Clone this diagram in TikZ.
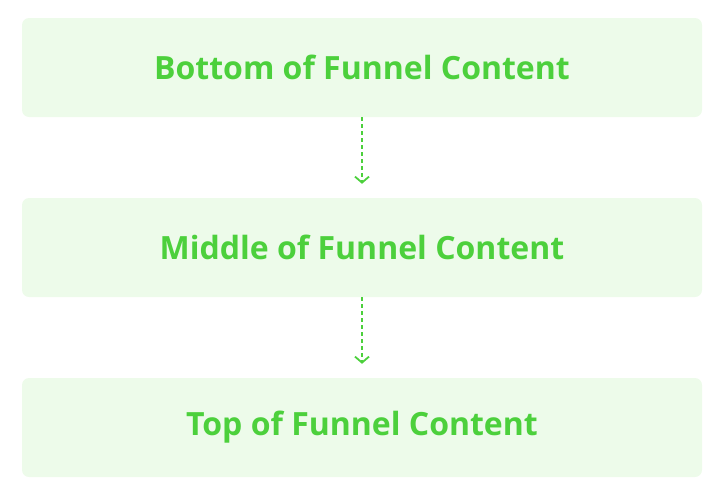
\documentclass[tikz,border=0pt]{standalone}
\usepackage{fontspec}
\setmainfont{Open Sans}
\usetikzlibrary{arrows.meta}
\definecolor{funnelfill}{HTML}{EDFBEA}
\definecolor{funnelgreen}{HTML}{4CD03C}
\begin{document}
\begin{tikzpicture}[x=1pt,y=-1pt]
            \tikzstyle{stage}=[draw=none, fill=funnelfill, rounded corners=7pt, minimum width=680pt, minimum height=99pt, inner sep=0pt, text=funnelgreen, font=\fontsize{32}{38}\selectfont\bfseries]
            \tikzstyle{flow}=[draw=funnelgreen, line width=1.8pt, dash pattern=on 4pt off 3pt, -{Straight Barb[length=6pt,width=14pt,line width=1.8pt]}, shorten >=14pt]
            \useasboundingbox (0,0) rectangle (720,496);
            \node [stage] (bofu) at (362,67.5) {Bottom of Funnel Content};
            \node [stage] (mofu) at (362,247.5) {Middle of Funnel Content};
            \node [stage] (tofu) at (362,427.5) {Top of Funnel Content};
            \draw [flow] (bofu.south) -- (mofu.north);
            \draw [flow] (mofu.south) -- (tofu.north);
\end{tikzpicture}
\end{document}
